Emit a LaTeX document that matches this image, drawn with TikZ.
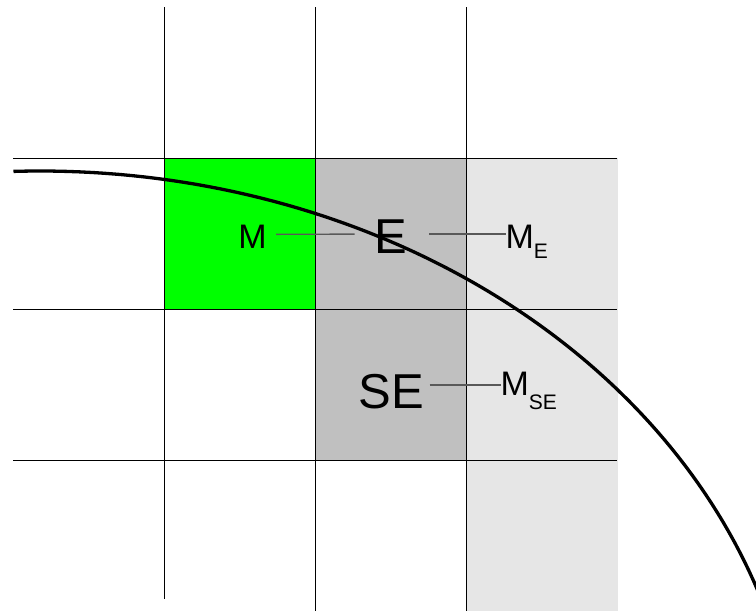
\documentclass[tikz,border=0pt]{standalone}
\usepackage{fontspec}
\setmainfont{Liberation Sans}
\definecolor{midgray}{RGB}{192,192,192}
\definecolor{palegray}{RGB}{230,230,230}
\definecolor{cellgreen}{RGB}{0,255,0}
\begin{document}
\begin{tikzpicture}[x=1pt,y=-1pt,
  gridline/.style={line width=1pt,black},
  conn/.style={line width=1.4pt,black!65},
  curve/.style={line width=3.3pt,black},
  lbl/.style={inner sep=0pt,outer sep=0pt,text=black},
  small/.style={font=\fontsize{34}{34}\selectfont},
  big/.style={font=\fontsize{49}{49}\selectfont}]
\useasboundingbox (0,0) rectangle (756,611);
% cells
\fill[cellgreen] (164,158) rectangle (315,309);
\fill[midgray] (315,158) rectangle (466,460);
\fill[palegray] (466,158) rectangle (618,611);
% grid
\draw[gridline] (13,158) -- (617,158);
\draw[gridline] (13,309) -- (617,309);
\draw[gridline] (13,460) -- (617,460);
\draw[gridline] (164,7) -- (164,599);
\draw[gridline] (315,7) -- (315,611);
\draw[gridline] (466,7) -- (466,611);
% curve
\begin{scope}
\clip (0,0) rectangle (756,611);
\draw[curve] plot[domain=18:92,samples=150,smooth] ({40+760*cos(\x)},{796-625*sin(\x)});
\end{scope}
% labels
\node[lbl,small,anchor=base] (M) at (252.5,248) {M};
\node[lbl,big,anchor=base] (E) at (391,253) {E};
\node[lbl,big,anchor=base] (SE) at (391,408) {SE};
\node[lbl,small,anchor=base west] (ME) at (505.5,248) {M\raisebox{-10pt}{\fontsize{21}{21}\selectfont E}};
\node[lbl,small,anchor=base west] (MSE) at (500.5,395) {M\raisebox{-14pt}{\fontsize{21}{21}\selectfont SE}};
% connectors
\draw[conn] ([xshift=9.5pt,yshift=2pt]M.east) -- ([xshift=-20pt,yshift=2pt]E.west);
\draw[conn] ([xshift=22pt,yshift=2pt]E.east) -- ([yshift=2pt]E.east -| ME.west);
\draw[conn] ([xshift=6pt,yshift=6pt]SE.east) -- ([yshift=6pt]SE.east -| MSE.west);
\end{tikzpicture}
\end{document}
